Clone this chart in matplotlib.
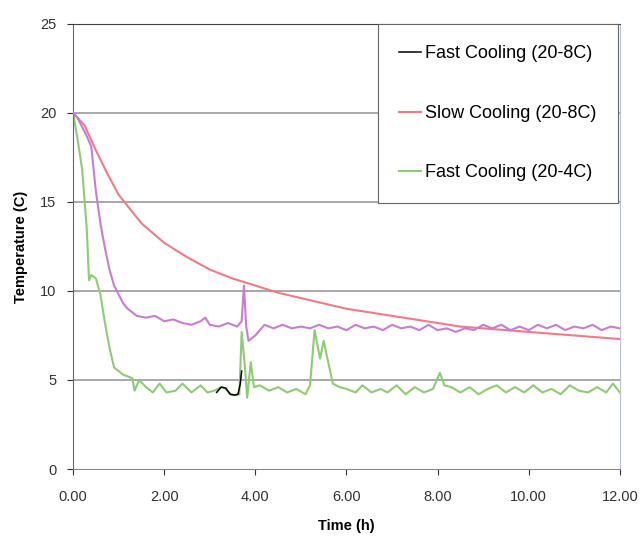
import matplotlib
matplotlib.use("Agg")
import matplotlib.pyplot as plt

plt.rcParams['font.family'] = ['Liberation Sans', 'DejaVu Sans']

# slow cooling 20-8C
slow_t = [0, 0.25, 0.5, 0.75, 1.0, 1.5, 2.0, 2.5, 3.0, 3.5, 4.0, 4.5, 5.0, 5.5, 6.0,
          6.5, 7.0, 7.5, 8.0, 8.5, 9.0, 9.5, 10.0, 10.5, 11.0, 11.5, 12.0]
slow_T = [20, 19.3, 17.9, 16.6, 15.4, 13.8, 12.7, 11.9, 11.2, 10.7, 10.3, 9.9, 9.6, 9.3, 9.0,
          8.8, 8.6, 8.4, 8.2, 8.0, 7.9, 7.8, 7.7, 7.6, 7.5, 7.4, 7.3]

# fast cooling 20-8C (drawn purple)
fast8_t = [0, 0.1, 0.2, 0.3, 0.4, 0.5, 0.6, 0.7, 0.8, 0.9, 1.0, 1.1, 1.2, 1.3, 1.4, 1.6,
           1.8, 2.0, 2.2, 2.4, 2.6, 2.8, 2.9, 3.0, 3.2, 3.4, 3.6, 3.7, 3.75, 3.8, 3.85, 4.0,
           4.2, 4.4, 4.6, 4.8, 5.0, 5.2, 5.4, 5.6, 5.8, 6.0, 6.2, 6.4, 6.6, 6.8, 7.0, 7.2,
           7.4, 7.6, 7.8, 8.0, 8.2, 8.4, 8.6, 8.8, 9.0, 9.2, 9.4, 9.6, 9.8, 10.0, 10.2,
           10.4, 10.6, 10.8, 11.0, 11.2, 11.4, 11.6, 11.8, 12.0]
fast8_T = [20, 19.7, 19.2, 18.7, 18.1, 15.6, 13.8, 12.4, 11.2, 10.3, 9.8, 9.3, 9.0, 8.8, 8.6, 8.5,
           8.6, 8.3, 8.4, 8.2, 8.1, 8.3, 8.5, 8.1, 8.0, 8.2, 8.0, 8.3, 10.3, 8.0, 7.2, 7.5,
           8.1, 7.9, 8.1, 7.9, 8.0, 7.9, 8.1, 7.9, 8.0, 7.8, 8.1, 7.9, 8.0, 7.8, 8.1, 7.9,
           8.0, 7.8, 8.1, 7.8, 7.9, 7.7, 7.9, 7.8, 8.1, 7.9, 8.1, 7.8, 8.0, 7.8, 8.1,
           7.9, 8.1, 7.8, 8.0, 7.9, 8.1, 7.8, 8.0, 7.9]

# short black stretch of the fast cooling 20-8C trace
black_t = [3.15, 3.25, 3.35, 3.45, 3.55, 3.62, 3.67, 3.7]
black_T = [4.3, 4.6, 4.55, 4.2, 4.15, 4.2, 4.8, 5.5]

# fast cooling 20-4C
fast4_t = [0, 0.1, 0.2, 0.3, 0.35, 0.4, 0.5, 0.6, 0.7, 0.8, 0.9, 1.0, 1.1, 1.2, 1.3, 1.35,
           1.45, 1.6, 1.75, 1.9, 2.05, 2.25, 2.4, 2.6, 2.8, 2.95, 3.1, 3.25, 3.35, 3.45, 3.55,
           3.65, 3.7, 3.78, 3.82, 3.9, 3.97, 4.1, 4.3, 4.5, 4.7, 4.9, 5.1, 5.2, 5.3, 5.42,
           5.5, 5.7, 5.85, 6.0, 6.2, 6.35, 6.55, 6.75, 6.9, 7.1, 7.3, 7.5, 7.7, 7.9, 8.05,
           8.15, 8.3, 8.5, 8.7, 8.9, 9.1, 9.3, 9.5, 9.7, 9.9, 10.1, 10.3, 10.5, 10.7, 10.9,
           11.1, 11.3, 11.5, 11.7, 11.85, 12.0]
fast4_T = [20, 18.5, 16.8, 13.5, 10.6, 10.9, 10.7, 9.8, 8.2, 6.8, 5.7, 5.5, 5.3, 5.2, 5.1, 4.4,
           5.0, 4.6, 4.3, 4.8, 4.3, 4.4, 4.8, 4.3, 4.7, 4.3, 4.4, 4.6, 4.5, 4.2, 4.15,
           4.2, 7.7, 5.5, 4.0, 6.0, 4.6, 4.7, 4.4, 4.6, 4.3, 4.5, 4.2, 4.7, 7.8, 6.2,
           7.2, 4.8, 4.6, 4.5, 4.3, 4.7, 4.3, 4.5, 4.3, 4.7, 4.2, 4.6, 4.3, 4.5, 5.4,
           4.7, 4.6, 4.3, 4.6, 4.2, 4.5, 4.7, 4.3, 4.6, 4.3, 4.7, 4.3, 4.5, 4.2, 4.7,
           4.4, 4.3, 4.6, 4.3, 4.8, 4.3]

xticks = [0, 2, 4, 6, 8, 10, 12]
yticks = [0, 5, 10, 15, 20, 25]

fig = plt.figure(figsize=(6.41, 5.41), dpi=100)
ax = fig.add_axes([0.114, 0.133, 0.853, 0.823])

for y in yticks[1:]:
    ax.axhline(y, color="#9a9a9a", lw=1.2, zorder=0)

ax.plot(slow_t, slow_T, color="#f27a88", lw=1.5, label="Slow Cooling (20-8C)", zorder=3)
ax.plot(fast4_t, fast4_T, color="#8fcb74", lw=1.5, label="Fast Cooling (20-4C)", zorder=2)
ax.plot(fast8_t, fast8_T, color="#c67dd2", lw=1.5, zorder=4)
ax.plot(black_t, black_T, color="black", lw=1.1, label="Fast Cooling (20-8C)", zorder=5)

ax.set_xlim(0, 12)
ax.set_ylim(0, 25)
ax.set_xticks(xticks)
ax.set_xticklabels(["%.2f" % v for v in xticks])
ax.set_yticks(yticks)
ax.tick_params(labelsize=10.5, colors="#333333", length=4, width=0.8)
ax.tick_params(axis="x", pad=11)
ax.tick_params(axis="y", pad=8)

ax.spines['left'].set_color("#666666")
ax.spines['bottom'].set_color("#888888")
ax.spines['top'].set_color("#444444")
ax.spines['right'].set_color("#b8c0d8")

ax.set_xlabel("Time (h)", fontsize=10.5, fontweight="bold", labelpad=11)
ax.set_ylabel("Temperature (C)", fontsize=10.5, fontweight="bold", labelpad=9)

h, l = ax.get_legend_handles_labels()
order = [2, 0, 1]
leg = ax.legend([h[i] for i in order], [l[i] for i in order],
                loc="upper right", bbox_to_anchor=(0.996, 1.0), borderaxespad=0,
                fontsize=13, frameon=True, fancybox=False, framealpha=1,
                edgecolor="#666666", handlelength=1.2, handletextpad=0.2,
                labelspacing=2.35, borderpad=1.2)
leg.get_frame().set_linewidth(0.8)

fig.savefig("out.png", dpi=100, facecolor="white")
